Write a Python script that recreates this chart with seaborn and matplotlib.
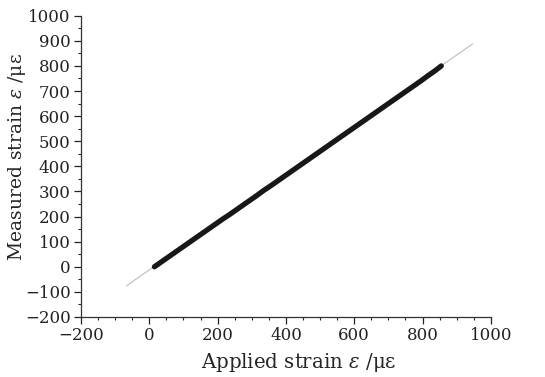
import matplotlib
matplotlib.use("Agg")
import matplotlib.pyplot as plt
import seaborn as sns
import pandas as pd
from matplotlib.ticker import MultipleLocator

# applied vs measured strain
applied = [15, 35, 55, 75, 95, 115, 135, 155, 175, 195, 215, 235, 255, 275, 295,
           315, 335, 355, 375, 395, 415, 435, 455, 475, 495, 515, 535, 555, 575,
           595, 615, 635, 655, 675, 695, 715, 735, 755, 775, 795, 815, 835, 855]
measured = [0, 19, 38, 57, 76, 95, 114, 133, 152, 171, 190, 208, 227, 246, 265,
            284, 304, 322, 341, 360, 379, 398, 417, 436, 455, 474, 493, 512, 531,
            550, 569, 588, 607, 626, 645, 664, 683, 702, 721, 740, 760, 779, 800]

# linear fit line endpoints
fit_x = [-67, 947]
fit_y = [-76, 888]

df = pd.DataFrame({"applied": applied, "measured": measured})
fit = pd.DataFrame({"x": fit_x, "y": fit_y})

sns.set_style("ticks")
plt.rcParams["font.family"] = ["DejaVu Serif"]
plt.rcParams["mathtext.fontset"] = "dejavuserif"

fig = plt.figure(figsize=(5.45, 3.77), dpi=100)
ax = fig.add_axes([0.1486, 0.1592, 0.752, 0.7992])

sns.lineplot(data=fit, x="x", y="y", color="#b5b5b5", linewidth=0.7, ax=ax)
sns.lineplot(data=df, x="applied", y="measured", color="#181818", linewidth=3.8,
             solid_capstyle="round", ax=ax)

ax.set_xlim(-200, 1000)
ax.set_ylim(-200, 1000)
ax.xaxis.set_major_locator(MultipleLocator(200))
ax.xaxis.set_minor_locator(MultipleLocator(50))
ax.yaxis.set_major_locator(MultipleLocator(100))
ax.yaxis.set_minor_locator(MultipleLocator(50))
ax.tick_params(which="major", length=5, width=0.9, direction="out", labelsize=12,
               colors="#222222", pad=2.5)
ax.tick_params(which="minor", length=2.5, width=0.8, direction="out")
for s in ["left", "bottom"]:
    ax.spines[s].set_linewidth(0.9)
    ax.spines[s].set_color("#333333")
sns.despine(ax=ax)

ax.set_xlabel(r"Applied strain $\varepsilon$ /με", fontsize=14.2)
ax.set_ylabel(r"Measured strain $\varepsilon$ /με", fontsize=13.5)
ax.xaxis.set_label_coords(0.532, -0.112)
ax.yaxis.set_label_coords(-0.13, 0.53)

fig.savefig("out.png", dpi=100)
